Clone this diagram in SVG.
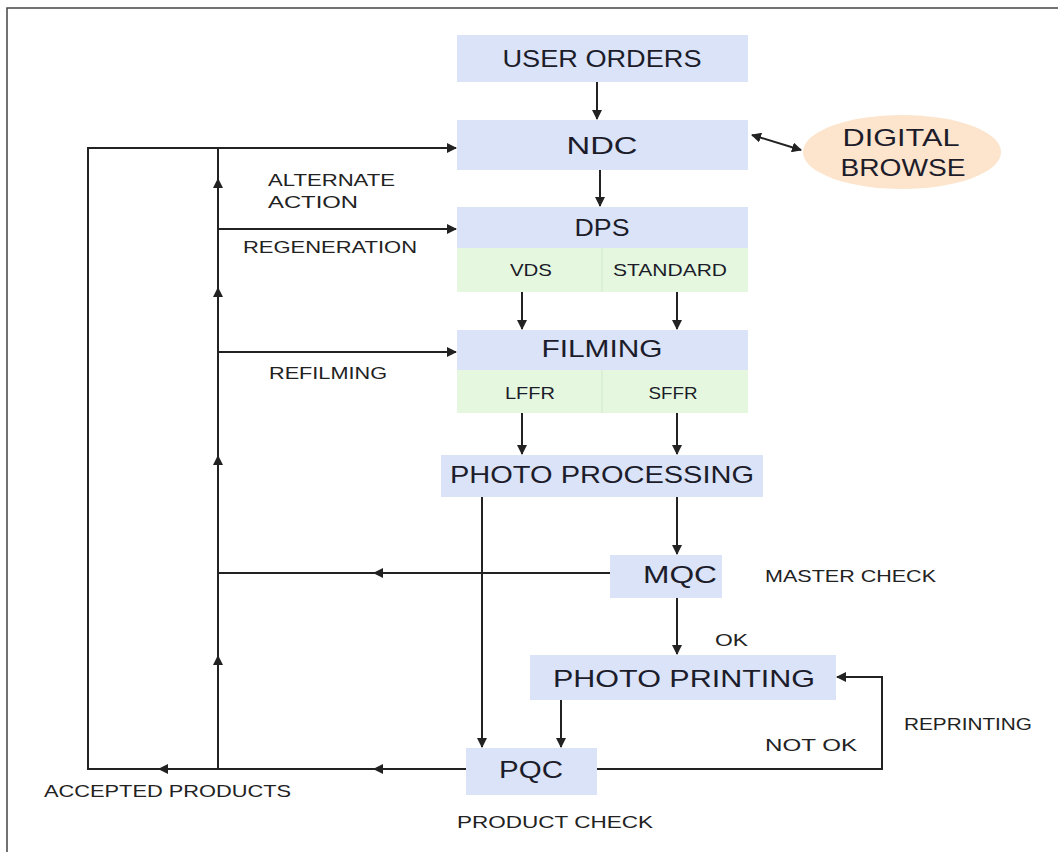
<svg xmlns="http://www.w3.org/2000/svg" width="1058" height="852" viewBox="0 0 1058 852">
<style>
.blue{fill:#dae3f8}
.green{fill:#e5f8df}
.t{font-family:"Liberation Sans",Arial,sans-serif;fill:#1c1c2a;text-anchor:middle;dominant-baseline:central}
.big{font-size:24px}
.sub{font-size:17px}
.lbl{font-family:"Liberation Sans",Arial,sans-serif;fill:#222;font-size:17px;dominant-baseline:central}
.ln{stroke:#222;stroke-width:2;fill:none}
.ar{marker-end:url(#ah)}
</style>
<defs>
<marker id="ah" viewBox="0 0 10 10" refX="9" refY="5" markerWidth="5" markerHeight="5" orient="auto-start-reverse" markerUnits="strokeWidth">
<path d="M0,0 L10,5 L0,10 z" fill="#222"/>
</marker>
</defs>
<rect width="1058" height="852" fill="#fff"/>
<path d="M7,852 V8 H1058" stroke="#444" stroke-width="1.5" fill="none"/>

<g id="user-orders"><rect class="blue" x="457" y="35" width="291" height="47"/><text class="t big" x="602" y="58" textLength="199" lengthAdjust="spacingAndGlyphs">USER ORDERS</text></g>
<g id="ndc"><rect class="blue" x="457" y="120" width="291" height="50"/><text class="t big" x="602" y="145" textLength="71" lengthAdjust="spacingAndGlyphs">NDC</text></g>
<g id="digital-browse"><ellipse cx="902" cy="152" rx="99" ry="37" fill="#fce4cd"/><text class="t big" x="901" y="137" textLength="117" lengthAdjust="spacingAndGlyphs">DIGITAL</text><text class="t big" x="903" y="167" textLength="125" lengthAdjust="spacingAndGlyphs">BROWSE</text></g>
<g id="dps"><rect class="blue" x="457" y="207" width="291" height="41"/><rect class="green" x="457" y="248" width="291" height="44"/><line x1="602" y1="248" x2="602" y2="292" stroke="#d0e8cc" stroke-width="1"/><text class="t big" x="602" y="227" textLength="55" lengthAdjust="spacingAndGlyphs">DPS</text><text class="t sub" x="531" y="270" textLength="42" lengthAdjust="spacingAndGlyphs">VDS</text><text class="t sub" x="670" y="270" textLength="114" lengthAdjust="spacingAndGlyphs">STANDARD</text></g>
<g id="filming"><rect class="blue" x="457" y="330" width="291" height="40"/><rect class="green" x="457" y="370" width="291" height="43"/><line x1="602" y1="370" x2="602" y2="413" stroke="#d0e8cc" stroke-width="1"/><text class="t big" x="602" y="348" textLength="121" lengthAdjust="spacingAndGlyphs">FILMING</text><text class="t sub" x="530" y="393" textLength="50" lengthAdjust="spacingAndGlyphs">LFFR</text><text class="t sub" x="673" y="393" textLength="49" lengthAdjust="spacingAndGlyphs">SFFR</text></g>
<g id="photo-processing"><rect class="blue" x="441" y="455" width="322" height="42"/><text class="t big" x="602" y="474" textLength="304" lengthAdjust="spacingAndGlyphs">PHOTO PROCESSING</text></g>
<g id="mqc"><rect class="blue" x="610" y="555" width="112" height="43"/><text class="t big" x="680" y="574" textLength="74" lengthAdjust="spacingAndGlyphs">MQC</text></g>
<g id="photo-printing"><rect class="blue" x="530" y="655" width="306" height="45"/><text class="t big" x="684" y="678" textLength="262" lengthAdjust="spacingAndGlyphs">PHOTO PRINTING</text></g>
<g id="pqc"><rect class="blue" x="466" y="748" width="131" height="47"/><text class="t big" x="531" y="769" textLength="64" lengthAdjust="spacingAndGlyphs">PQC</text></g>

<g id="labels">
<text class="lbl" x="268" y="180" textLength="127" lengthAdjust="spacingAndGlyphs">ALTERNATE</text>
<text class="lbl" x="268" y="202" textLength="90" lengthAdjust="spacingAndGlyphs">ACTION</text>
<text class="lbl" x="243" y="247" textLength="174" lengthAdjust="spacingAndGlyphs">REGENERATION</text>
<text class="lbl" x="269" y="373" textLength="118" lengthAdjust="spacingAndGlyphs">REFILMING</text>
<text class="lbl" x="765" y="576" textLength="171" lengthAdjust="spacingAndGlyphs">MASTER CHECK</text>
<text class="lbl" x="715" y="640" textLength="33" lengthAdjust="spacingAndGlyphs">OK</text>
<text class="lbl" x="904" y="724" textLength="128" lengthAdjust="spacingAndGlyphs">REPRINTING</text>
<text class="lbl" x="765" y="745" textLength="92" lengthAdjust="spacingAndGlyphs">NOT OK</text>
<text class="lbl" x="44" y="791" textLength="247" lengthAdjust="spacingAndGlyphs">ACCEPTED PRODUCTS</text>
<text class="lbl" x="457" y="822" textLength="196" lengthAdjust="spacingAndGlyphs">PRODUCT CHECK</text>
</g>

<g id="connectors">
<line class="ln ar" x1="597" y1="82" x2="597" y2="119"/>
<line class="ln ar" x1="600" y1="170" x2="600" y2="206"/>
<line class="ln" x1="752" y1="135" x2="801" y2="150" marker-start="url(#ah)" marker-end="url(#ah)"/>
<line class="ln ar" x1="522" y1="292" x2="522" y2="329"/>
<line class="ln ar" x1="677" y1="292" x2="677" y2="329"/>
<line class="ln ar" x1="522" y1="413" x2="522" y2="454"/>
<line class="ln ar" x1="677" y1="413" x2="677" y2="454"/>
<line class="ln ar" x1="677" y1="497" x2="677" y2="554"/>
<line class="ln ar" x1="482" y1="497" x2="482" y2="747"/>
<line class="ln ar" x1="677" y1="598" x2="677" y2="654"/>
<line class="ln ar" x1="561" y1="700" x2="561" y2="747"/>
<line class="ln ar" x1="610" y1="573" x2="374" y2="573"/>
<line class="ln" x1="378" y1="573" x2="218" y2="573"/>
<line class="ln ar" x1="466" y1="769" x2="374" y2="769"/>
<line class="ln" x1="378" y1="769" x2="218" y2="769"/>
<line class="ln ar" x1="218" y1="769" x2="159" y2="769"/>
<line class="ln" x1="163" y1="769" x2="87" y2="769"/>
<line class="ln ar" x1="218" y1="769" x2="218" y2="656"/>
<line class="ln ar" x1="218" y1="660" x2="218" y2="456"/>
<line class="ln ar" x1="218" y1="460" x2="218" y2="288"/>
<line class="ln ar" x1="218" y1="292" x2="218" y2="179"/>
<line class="ln" x1="218" y1="183" x2="218" y2="147"/>
<line class="ln" x1="88" y1="770" x2="88" y2="147"/>
<line class="ln ar" x1="87" y1="148" x2="456" y2="148"/>
<line class="ln ar" x1="218" y1="229" x2="456" y2="229"/>
<line class="ln ar" x1="218" y1="352" x2="456" y2="352"/>
<path class="ln ar" d="M597,769 H882 V677 H837"/>
</g>
</svg>
